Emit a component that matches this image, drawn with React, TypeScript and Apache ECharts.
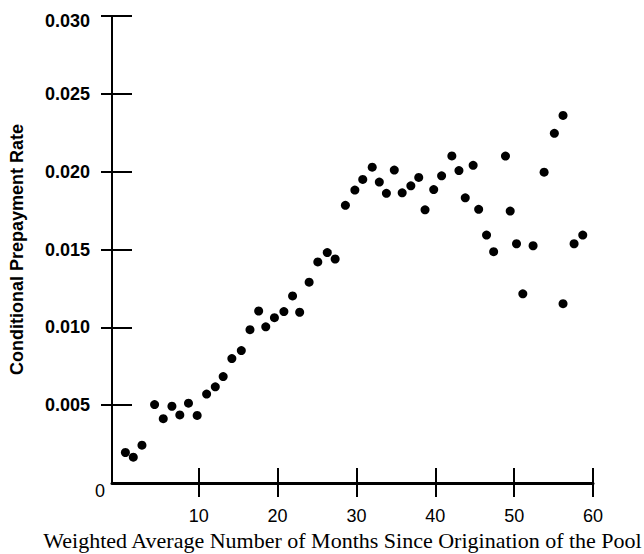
import React, { useEffect, useRef } from "react";
import * as echarts from "echarts";

const months = [
  0.7, 1.7, 2.8, 4.4, 5.5, 6.6, 7.6, 8.7, 9.8, 11.0,
  12.1, 13.1, 14.2, 15.4, 16.5, 17.6, 18.5, 19.6, 20.8, 21.9,
  22.8, 24.0, 25.1, 26.3, 27.3, 28.6, 29.8, 30.8, 32.0, 32.9,
  33.8, 34.8, 35.8, 36.9, 37.9, 38.7, 39.8, 40.8, 42.1, 43.0,
  43.8, 44.8, 45.5, 46.5, 47.4, 48.9, 49.5, 50.3, 51.1, 52.4,
  53.8, 55.1, 56.2, 56.2, 57.6, 58.7,
];
const rates = [
  0.00196, 0.00166, 0.00243, 0.00504, 0.00413, 0.00493, 0.00437, 0.00513, 0.00434, 0.00571,
  0.00618, 0.00684, 0.00799, 0.00851, 0.00985, 0.01105, 0.01003, 0.01062, 0.01101, 0.01202,
  0.01097, 0.0129, 0.0142, 0.0148, 0.01439, 0.01784, 0.01882, 0.0195, 0.02029, 0.01933,
  0.01861, 0.0201, 0.01864, 0.01909, 0.01963, 0.01755, 0.01885, 0.01973, 0.02101, 0.02007,
  0.01832, 0.02041, 0.01758, 0.01593, 0.01486, 0.021, 0.01747, 0.01537, 0.01215, 0.01524,
  0.01997, 0.02246, 0.02361, 0.01152, 0.01537, 0.01593,
];
const xTicks = [10, 20, 30, 40, 50, 60];
const yTicks = [0.005, 0.01, 0.015, 0.02, 0.025, 0.03];
const yZero = [0];

const xTitle = "Weighted Average Number of Months Since Origination of the Pool";
const yTitle = "Conditional Prepayment Rate";

export default function App() {
  const ref = useRef<HTMLDivElement>(null);
  useEffect(() => {
    if (!ref.current) return;
    const chart = echarts.init(ref.current, null, { renderer: "svg" });
    const data = months.map((m, i) => [m, rates[i]]);
    const lineStyle = { color: "#000", width: 2 };
    const yLabelFont = {
      color: "#000",
      fontFamily: "Liberation Sans",
      fontWeight: "bold",
      fontSize: 18,
    };
    chart.setOption({
      animation: false,
      backgroundColor: "#fff",
      grid: { left: 112, right: 51, top: 16, bottom: 71, outerBoundsMode: "none", containLabel: false },
      xAxis: [
        {
          type: "value",
          min: -1,
          max: 60,
          position: "bottom",
          offset: 0,
          splitLine: { show: false },
          axisLine: { show: true, onZero: false, lineStyle: { color: "#000", width: 3 } },
          axisTick: { show: true, inside: false, length: 14, customValues: xTicks, lineStyle },
          axisLabel: {
            show: true,
            customValues: xTicks,
            margin: 24,
            color: "#000",
            fontFamily: "Liberation Sans",
            fontSize: 18,
          },
          name: xTitle,
          nameLocation: "middle",
          nameGap: 46,
          nameTextStyle: {
            color: "#000",
            fontFamily: "Liberation Serif",
            fontSize: 22,
            padding: [0, 20, 0, 0],
          },
        },
        {
          type: "value",
          min: -1,
          max: 60,
          position: "bottom",
          offset: 0,
          splitLine: { show: false },
          axisLine: { show: false, onZero: false },
          axisTick: { show: true, inside: true, length: 15, customValues: xTicks, lineStyle },
          axisLabel: { show: false },
        },
      ],
      yAxis: [
        {
          type: "value",
          min: 0,
          max: 0.03,
          position: "left",
          offset: 0,
          splitLine: { show: false },
          axisLine: { show: true, onZero: false, lineStyle: { color: "#000", width: 2 } },
          axisTick: { show: true, inside: false, length: 11, customValues: yTicks, lineStyle },
          axisLabel: {
            show: true,
            customValues: yTicks,
            margin: 22,
            ...yLabelFont,
            formatter: (v: number) =>
              v >= 0.0299 ? "{t|" + v.toFixed(3) + "}" : v.toFixed(3),
            rich: {
              t: { ...yLabelFont, padding: [10, 0, 0, 0] },
            },
          },
          name: yTitle,
          nameLocation: "middle",
          nameRotate: 90,
          nameGap: 86,
          nameTextStyle: {
            color: "#000",
            fontFamily: "Liberation Sans",
            fontWeight: "bold",
            fontSize: 18,
          },
        },
        {
          type: "value",
          min: 0,
          max: 0.03,
          position: "left",
          offset: 0,
          splitLine: { show: false },
          axisLine: { show: false, onZero: false },
          axisTick: { show: true, inside: true, length: 20, customValues: yTicks, lineStyle },
          axisLabel: {
            show: true,
            customValues: yZero,
            margin: 7,
            formatter: (v: number) => "{z|" + String(v) + "}",
            rich: {
              z: {
                color: "#000",
                fontFamily: "Liberation Sans",
                fontSize: 18,
                padding: [16, 0, 0, 0],
              },
            },
          },
        },
      ],
      series: [
        {
          type: "scatter",
          xAxisIndex: 0,
          yAxisIndex: 0,
          data,
          symbol: "circle",
          symbolSize: 9,
          itemStyle: { color: "#000", opacity: 1 },
        },
      ],
    });
    return () => chart.dispose();
  }, []);
  return (
    <div
      ref={ref}
      style={{ position: "absolute", left: 0, top: 0, width: 644, height: 554, background: "#fff" }}
    />
  );
}
